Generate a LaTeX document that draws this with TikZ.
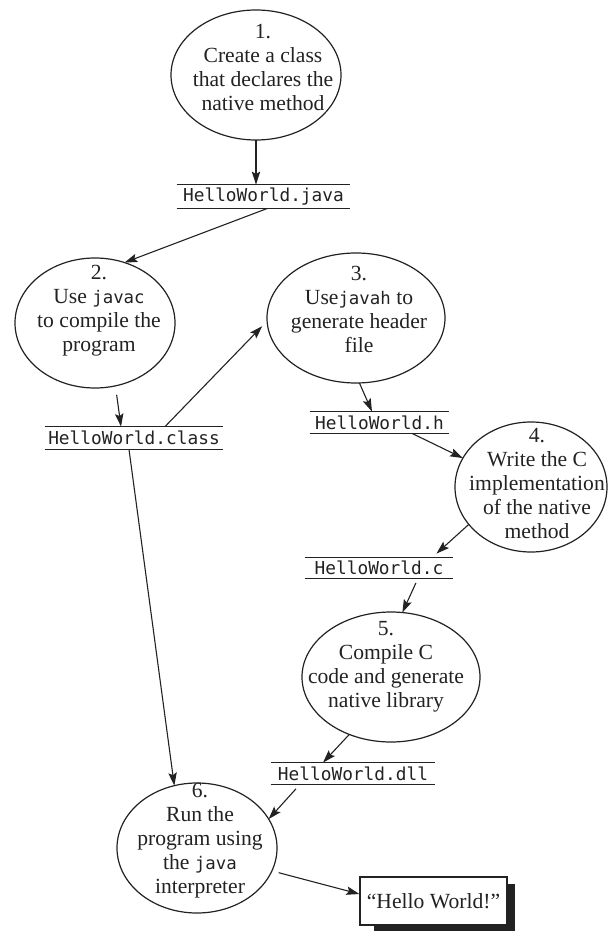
\documentclass[tikz,border=0pt]{standalone}
\usepackage{fontspec}
\setmainfont{Liberation Serif}
\setmonofont{DejaVu Sans Mono}
\usetikzlibrary{shapes.geometric,arrows.meta}
\pgfdeclarelayer{background}
\pgfsetlayers{background,main}
\definecolor{ink}{HTML}{222222}
\newcommand{\codew}[1]{{\fontsize{8.7}{12}\selectfont\ttfamily #1}}
\begin{document}
\begin{tikzpicture}[x=0.5pt,y=-0.5pt,
  stepell/.style 2 args={draw=ink,line width=0.6pt,ellipse,inner sep=0pt,outer sep=0pt,minimum width=#1,minimum height=#2},
  steptext/.style={align=center,inner sep=0pt,text=ink,font=\fontsize{10.8}{12}\selectfont},
  filelbl/.style 2 args={inner sep=0pt,minimum width=#1,minimum height=#2,text=ink,font=\fontsize{8.9}{10}\selectfont\ttfamily},
  arr/.style={draw=ink,line width=0.55pt,-{Stealth[length=6.5pt,width=4.2pt,inset=1.2pt]}},
  rule/.style={draw=ink,line width=0.6pt}
]
\useasboundingbox (0,0) rectangle (608,931);

% step 1
\node[stepell={85pt}{65pt}] (e1) at (256,75) {};
\node[steptext] (e1t) at (263,67.5) {1.\\Create a class\\that declares the\\native method};
\node[filelbl={86.5pt}{11.5pt}] (java) at (263.5,196.5) {HelloWorld.java};

% step 2
\node[stepell={80pt}{65pt}] (e2) at (95,323) {};
\node[steptext] (e2t) at (99,311) {2.\\Use \codew{javac}\\to compile the\\program};
\node[filelbl={89pt}{11pt}] (cls) at (134,438) {HelloWorld.class};

% step 3
\node[stepell={89pt}{65pt}] (e3) at (356,318) {};
\node[steptext] (e3t) at (359,309) {3.\\Use\codew{javah} to\\generate header\\file};
\node[filelbl={69.5pt}{10.5pt}] (hh) at (379.5,422.5) {HelloWorld.h};

% step 4
\node[stepell={76pt}{65pt}] (e4) at (531,487) {};
\node[steptext] (e4t) at (537,483.5) {4.\\Write the C\\implementation\\of the native\\method};
\node[filelbl={74pt}{10pt}] (cc) at (379,568) {HelloWorld.c};

% step 5
\node[stepell={89pt}{65pt}] (e5) at (391,677) {};
\node[steptext] (e5t) at (386,667) {5.\\Compile C\\code and generate\\native library};
\node[filelbl={82pt}{10.5pt}] (dll) at (353,773.5) {HelloWorld.dll};

% step 6
\node[stepell={80pt}{65pt}] (e6) at (197,848) {};
\node[steptext] (e6t) at (200,841) {6.\\Run the\\program using\\the \codew{java}\\interpreter};

% result box
\node[draw=ink,line width=0.6pt,fill=white,minimum width=73.5pt,minimum height=24pt,inner sep=0pt,text=ink,font=\fontsize{10.8}{12}\selectfont] (box) at (433.5,901) {“Hello World!”};
\begin{pgfonlayer}{background}
\fill[ink] ([xshift=7.5pt,yshift=-4pt]box.north west) rectangle ([xshift=3.5pt,yshift=-3pt]box.south east);
\end{pgfonlayer}

% rules above and below file names
\foreach \n in {java,cls,hh,cc,dll}{
  \draw[rule] (\n.north west) -- (\n.north east);
  \draw[rule] (\n.south west) -- (\n.south east);
}

% connectors
\draw[arr] (e1.south) -- (e1.south |- java.north);
\draw[arr] ([xshift=2pt]java.south) -- (e2.64);
\draw[arr,shorten <=4.5pt] (e2.-72) -- ([xshift=-6.5pt]cls.north);
\draw[arr,shorten >=3.5pt] ([xshift=15.5pt]cls.north) -- (e3.182);
\draw[arr] (e3.-87) -- ([xshift=-3.75pt]hh.north);
\draw[arr] ([xshift=16.25pt]hh.south) -- (e4.157);
\draw[arr,shorten >=3pt] (e4.211) -- ([xshift=26.5pt]cc.north);
\draw[arr,shorten <=2.5pt] ([xshift=19.5pt]cc.south) -- (e5.80);
\draw[arr] (e5.234) -- ([xshift=-15pt]dll.north);
\draw[arr,shorten <=3pt] ([xshift=-26.5pt]dll.south) -- (e6.22);
\draw[arr] ([xshift=-2.5pt]cls.south) -- (e6.110);
\draw[arr,shorten <=3.5pt] (e6.-17) -- ([yshift=3.5pt]box.west);
\end{tikzpicture}
\end{document}
